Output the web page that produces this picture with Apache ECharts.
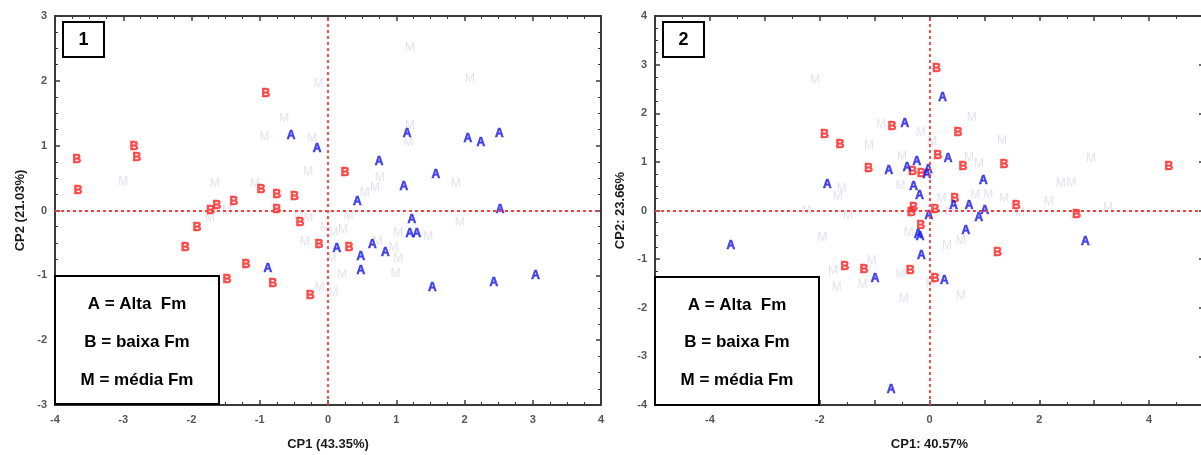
<!DOCTYPE html>
<html>
<head>
<meta charset="utf-8">
<script src="https://cdn.jsdelivr.net/npm/echarts@6/dist/echarts.min.js"></script>
<style>html,body{margin:0;padding:0;background:#fff}#c{width:1201px;height:455px}</style>
</head>
<body>
<div id="c"></div>
<script>
// ---- Panel 1 data (CP1 43.35%, CP2 21.03%) ----
const p1A = [[-0.54,1.15],[-0.16,0.95],[-0.88,-0.89],[1.16,1.18],[2.05,1.10],[2.24,1.04],[2.51,1.18],[0.75,0.76],[1.58,0.56],[1.11,0.37],[0.43,0.14],[2.52,0.01],[1.23,-0.14],[1.20,-0.35],[1.30,-0.36],[0.13,-0.59],[0.65,-0.53],[0.84,-0.65],[0.48,-0.72],[0.48,-0.93],[1.53,-1.19],[2.43,-1.11],[3.04,-1.00]];
const p1B = [[-3.68,0.79],[-3.66,0.30],[-2.84,0.98],[-2.80,0.81],[-0.91,1.80],[-0.98,0.32],[-0.75,0.25],[-0.49,0.21],[-0.75,0.01],[-1.38,0.14],[-1.63,0.08],[-1.72,0.00],[-0.41,-0.19],[-1.92,-0.27],[-2.09,-0.57],[-1.20,-0.83],[-1.48,-1.06],[-0.81,-1.13],[-0.26,-1.31],[-0.13,-0.53],[0.25,0.59],[0.31,-0.57]];
const p1M = [[-3.00,0.44],[-1.66,0.42],[-1.07,0.42],[-0.93,1.14],[-0.64,1.41],[-0.23,1.10],[-0.29,0.60],[-0.14,1.96],[-1.73,-0.13],[-1.48,-0.01],[-0.43,-0.08],[-0.29,-0.12],[-0.34,-0.48],[-0.12,-1.19],[-0.04,-0.26],[1.20,2.51],[2.08,2.04],[1.20,1.31],[1.18,1.04],[0.76,0.51],[1.87,0.42],[0.54,0.28],[0.69,0.35],[0.30,-0.08],[1.93,-0.19],[1.03,-0.34],[1.47,-0.40],[0.73,-0.48],[0.96,-0.58],[1.03,-0.75],[0.99,-0.98],[0.21,-0.99],[0.05,-0.75],[0.08,-0.34],[0.22,-0.29],[0.08,-1.27]];

// ---- Panel 2 data (CP1 40.57%, CP2 23.66%) ----
const p2A = [[-0.45,1.79],[-0.74,0.82],[-0.41,0.89],[-0.23,1.01],[-0.02,0.83],[-0.05,0.74],[-0.29,0.48],[-0.18,0.31],[-1.86,0.53],[0.24,2.33],[0.34,1.06],[0.98,0.62],[0.44,0.09],[0.72,0.09],[1.01,0.00],[-0.01,-0.10],[0.90,-0.15],[-0.21,-0.50],[-0.17,-0.53],[-0.15,-0.92],[0.66,-0.41],[2.84,-0.65],[0.27,-1.45],[-3.62,-0.73],[-0.99,-1.40],[-0.70,-3.69]];
const p2B = [[-1.91,1.56],[-1.63,1.36],[-0.68,1.72],[-1.11,0.86],[-0.31,0.79],[-0.15,0.76],[-0.29,0.06],[-0.33,-0.05],[-0.16,-0.31],[0.13,2.92],[0.52,1.61],[0.15,1.12],[0.61,0.91],[1.36,0.94],[4.36,0.91],[0.46,0.24],[1.58,0.09],[2.68,-0.08],[0.10,0.02],[1.24,-0.86],[-0.35,-1.23],[0.10,-1.40],[-1.54,-1.16],[-1.19,-1.21]];
const p2M = [[-2.08,2.68],[-1.10,1.34],[-0.88,1.77],[-0.16,1.60],[-0.50,1.11],[-0.53,0.51],[-1.60,0.45],[-1.67,0.29],[-2.24,0.00],[-1.49,-0.10],[0.77,1.90],[0.05,1.42],[1.32,1.44],[0.72,1.08],[0.90,0.97],[2.94,1.07],[2.39,0.55],[2.58,0.58],[0.84,0.33],[1.07,0.33],[0.22,0.24],[1.36,0.24],[1.65,-0.05],[2.17,0.18],[3.25,0.06],[0.38,-0.05],[0.32,-0.72],[0.57,-0.63],[0.57,-1.75],[-0.47,-1.81],[0.02,-1.52],[-0.38,-0.46],[-0.53,-1.31],[-1.95,-0.56],[-1.76,-1.23],[-1.69,-1.59],[-1.05,-1.03],[-1.22,-1.53]];

// ---- axis texts ----
const p1XName = 'CP1 (43.35%)';
const p1YName = 'CP2 (21.03%)';
const p2XName = 'CP1: 40.57%';
const p2YName = 'CP2: 23.66%';
const p1Range = {x: [-4, 4], y: [-3, 3]};
const p2Range = {x: [-5, 5], y: [-4, 4]};
const p2XLabelValues = [-4, -2, 0, 2, 4];
const legendLines = ['A = Alta  Fm', 'B = baixa Fm', 'M = média Fm'];

const FONT = '"Liberation Sans", Arial, sans-serif';
const axisColor = '#3a3a3a';
const tickLabel = {fontFamily: FONT, fontSize: 11, fontWeight: 'bold', color: '#555'};

function mainX(idx, range, name, labelFilter) {
  return {
    gridIndex: idx, type: 'value', position: 'bottom', min: range[0], max: range[1], interval: 1,
    name: name, nameLocation: 'middle', nameGap: 33,
    nameTextStyle: {fontFamily: FONT, fontSize: 13, fontWeight: 'bold', color: '#1a1a1a'},
    axisLine: {show: true, onZero: false, lineStyle: {color: axisColor, width: 2}},
    axisTick: {show: true, inside: true, length: 5, lineStyle: {color: axisColor, width: 1.5}},
    minorTick: {show: true, splitNumber: idx === 0 ? 4 : 2, length: 3, lineStyle: {color: axisColor, width: 1}},
    axisLabel: Object.assign({margin: 9, formatter: labelFilter || (v => String(v))}, tickLabel),
    splitLine: {show: false}
  };
}
function secX(idx, range) {
  return {
    gridIndex: idx, type: 'value', position: 'top', min: range[0], max: range[1], interval: 1,
    axisLine: {show: true, onZero: false, lineStyle: {color: axisColor, width: 2}},
    axisTick: {show: true, inside: true, length: 5, lineStyle: {color: axisColor, width: 1.5}},
    minorTick: {show: true, splitNumber: idx === 0 ? 4 : 2, length: 3, lineStyle: {color: axisColor, width: 1}},
    axisLabel: {show: false}, splitLine: {show: false}
  };
}
function mainY(idx, range, name, gap) {
  return {
    gridIndex: idx, type: 'value', position: 'left', min: range[0], max: range[1], interval: 1,
    name: name, nameLocation: 'middle', nameGap: gap, nameRotate: 90,
    nameTextStyle: {fontFamily: FONT, fontSize: 13, fontWeight: 'bold', color: '#1a1a1a'},
    axisLine: {show: true, onZero: false, lineStyle: {color: axisColor, width: 2}},
    axisTick: {show: true, inside: true, length: 5, lineStyle: {color: axisColor, width: 1.5}},
    minorTick: {show: true, splitNumber: 4, length: 3, lineStyle: {color: axisColor, width: 1}},
    axisLabel: Object.assign({margin: 8}, tickLabel),
    splitLine: {show: false}
  };
}
function secY(idx, range) {
  return {
    gridIndex: idx, type: 'value', position: 'right', min: range[0], max: range[1], interval: 1,
    axisLine: {show: true, onZero: false, lineStyle: {color: axisColor, width: 2}},
    axisTick: {show: true, inside: true, length: 5, lineStyle: {color: axisColor, width: 1.5}},
    minorTick: {show: true, splitNumber: 4, length: 3, lineStyle: {color: axisColor, width: 1}},
    axisLabel: {show: false}, splitLine: {show: false}
  };
}

function letterSeries(data, letter, color, weight, border, xi, yi, z, withLines) {
  const s = {
    type: 'scatter', xAxisIndex: xi, yAxisIndex: yi, data: data, z: z,
    symbol: 'circle', symbolSize: 1, itemStyle: {color: 'rgba(0,0,0,0)'},
    silent: true,
    label: {show: true, position: 'inside', formatter: letter, color: color,
      fontFamily: FONT, fontSize: 12, fontWeight: weight,
      textBorderColor: color, textBorderWidth: border},
    emphasis: {disabled: true}
  };
  if (withLines) {
    s.markLine = {
      silent: true, symbol: 'none', label: {show: false},
      lineStyle: {color: '#ff3b3b', type: [3, 3], width: 1.8},
      data: [{xAxis: 0}, {yAxis: 0}]
    };
  }
  return s;
}

const colA = '#1c1ce8', colB = '#ff2626', colM = '#d9d9f0';

function boxGraphics(x, y, w, h) {
  return {type: 'rect', shape: {x: x, y: y, width: w, height: h},
    style: {fill: '#fff', stroke: '#000', lineWidth: 2}, z: 100};
}
function boxText(x, y, t, size) {
  return {type: 'text', x: x, y: y, z: 101,
    style: {text: t, fontFamily: FONT, fontSize: size, fontWeight: 'bold', fill: '#000',
      align: 'center', verticalAlign: 'middle'}};
}

const graphics = [
  boxGraphics(63, 22, 41, 35), boxText(83.5, 40, '1', 18),
  boxGraphics(55, 276, 164, 128),
  boxText(137, 304, legendLines[0], 17), boxText(137, 342, legendLines[1], 17), boxText(137, 380, legendLines[2], 17),
  boxGraphics(663, 22, 41, 35), boxText(683.5, 40, '2', 18),
  boxGraphics(655, 277, 164, 128),
  boxText(737, 305, legendLines[0], 17), boxText(737, 342, legendLines[1], 17), boxText(737, 380, legendLines[2], 17)
];

const chart = echarts.init(document.getElementById('c'), null, {renderer: 'canvas'});
chart.setOption({
  animation: false,
  backgroundColor: '#fff',
  grid: [
    {left: 55, top: 16, width: 546, height: 389, outerBoundsMode: 'none'},
    {left: 655, top: 16, width: 549, height: 389, outerBoundsMode: 'none'}
  ],
  xAxis: [
    mainX(0, p1Range.x, p1XName),
    secX(0, p1Range.x),
    mainX(1, p2Range.x, p2XName, v => (p2XLabelValues.indexOf(v) >= 0 ? String(v) : '')),
    secX(1, p2Range.x)
  ],
  yAxis: [
    mainY(0, p1Range.y, p1YName, 28),
    secY(0, p1Range.y),
    mainY(1, p2Range.y, p2YName, 28),
    secY(1, p2Range.y)
  ],
  series: [
    letterSeries(p1M, 'M', colM, 'normal', 0, 0, 0, 2, true),
    letterSeries(p1B, 'B', colB, 'bold', 0.6, 0, 0, 3, false),
    letterSeries(p1A, 'A', colA, 'bold', 0.6, 0, 0, 4, false),
    letterSeries(p2M, 'M', colM, 'normal', 0, 2, 2, 2, true),
    letterSeries(p2B, 'B', colB, 'bold', 0.6, 2, 2, 3, false),
    letterSeries(p2A, 'A', colA, 'bold', 0.6, 2, 2, 4, false)
  ],
  graphic: graphics
});
</script>
</body>
</html>
